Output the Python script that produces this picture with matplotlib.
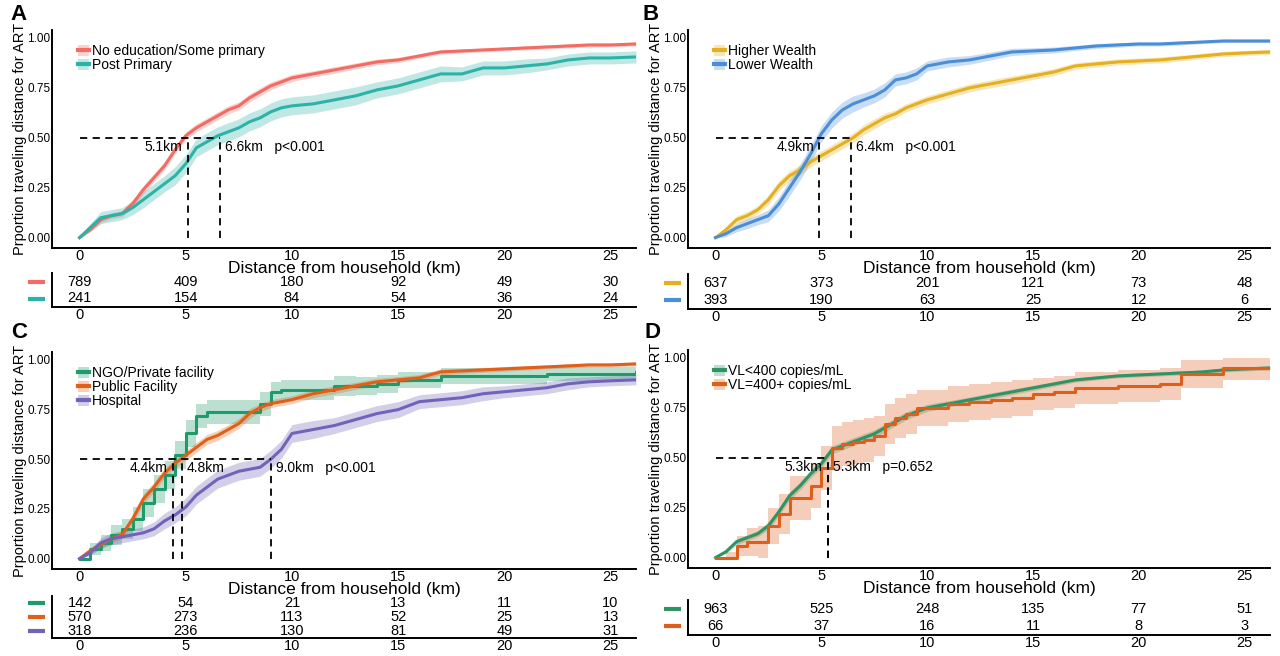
import numpy as np
import matplotlib
matplotlib.use('Agg')
import matplotlib.pyplot as plt
from matplotlib.patches import Patch
from matplotlib.lines import Line2D

plt.rcParams['font.family'] = ['Liberation Sans', 'DejaVu Sans']

# common distance grid (km) at which the cumulative proportions were read
dist = [0, 0.5, 1, 1.5, 2, 2.5, 3, 3.5, 4, 4.5, 5, 5.5, 6, 6.5, 7, 7.5, 8, 8.5, 9, 9.5,
        10, 11, 12, 13, 14, 15, 16, 17, 18, 19, 20, 21, 22, 23, 24, 25, 26.2]
risk_ticks = [0, 5, 10, 15, 20, 25]

# ---- panel A: education
edu_labels = ['No education/Some primary', 'Post Primary']
edu_low = [0, .04, .09, .11, .12, .17, .24, .30, .36, .44, .51, .55, .58, .61, .64, .66, .70, .73, .76, .78,
           .80, .82, .84, .86, .88, .89, .91, .93, .935, .94, .945, .95, .955, .96, .965, .965, .97]
edu_low_ci = [0, .01, .015, .015, .015, .02, .02, .02, .02, .02, .02, .02, .02, .02, .02, .02, .02, .02, .02, .018,
              .018, .016, .016, .015, .014, .013, .012, .011, .01, .01, .01, .01, .01, .01, .01, .01, .01]
edu_post = [0, .05, .10, .11, .12, .15, .19, .23, .27, .31, .37, .45, .48, .51, .53, .55, .58, .60, .63, .65,
            .66, .67, .69, .71, .74, .76, .79, .82, .82, .85, .85, .86, .87, .89, .90, .90, .905]
edu_post_ci = [0, .02, .03, .03, .03, .035, .04, .04, .04, .045, .045, .045, .045, .045, .045, .045, .045, .045, .045, .045,
               .045, .045, .045, .045, .04, .04, .04, .04, .035, .035, .035, .035, .03, .03, .03, .03, .03]
edu_medians = [5.1, 6.6]
edu_p = 'p<0.001'
edu_risk = [[789, 409, 180, 92, 49, 30], [241, 154, 84, 54, 36, 24]]

# ---- panel B: wealth
wealth_labels = ['Higher Wealth', 'Lower Wealth']
wealth_high = [0, .04, .09, .11, .14, .19, .26, .31, .34, .38, .41, .44, .47, .50, .54, .57, .60, .62, .65, .67,
               .69, .72, .75, .77, .79, .81, .83, .86, .87, .88, .885, .89, .90, .91, .92, .925, .93]
wealth_high_ci = [0, .015, .02, .02, .02, .025, .025, .025, .025, .025, .025, .025, .025, .025, .025, .025, .025, .02, .02, .02,
                  .02, .02, .02, .02, .02, .018, .018, .016, .016, .015, .015, .015, .014, .014, .013, .013, .013]
wealth_lowr = [0, .02, .05, .07, .09, .11, .17, .25, .33, .42, .52, .59, .64, .67, .69, .71, .74, .79, .80, .82,
               .86, .88, .89, .91, .93, .935, .94, .95, .96, .965, .97, .97, .975, .98, .985, .985, .985]
wealth_lowr_ci = [0, .015, .02, .025, .025, .03, .035, .04, .04, .04, .04, .04, .04, .04, .035, .035, .035, .03, .03, .03,
                  .025, .025, .022, .02, .018, .016, .015, .013, .012, .011, .01, .01, .01, .008, .008, .008, .008]
wealth_medians = [4.9, 6.4]
wealth_p = 'p<0.001'
wealth_risk = [[637, 373, 201, 121, 73, 48], [393, 190, 63, 25, 12, 6]]

# ---- panel C: facility type
fac_labels = ['NGO/Private facility', 'Public Facility', 'Hospital']
fac_ngo = [0, .05, .08, .12, .15, .20, .28, .35, .42, .52, .63, .72, .74, .74, .74, .74, .74, .78, .84, .85,
           .85, .85, .87, .87, .88, .90, .90, .92, .92, .92, .92, .92, .93, .93, .93, .93, .94]
fac_ngo_ci = [0, .03, .04, .05, .05, .06, .07, .07, .07, .07, .07, .06, .06, .06, .06, .06, .06, .06, .05, .05,
              .05, .05, .05, .045, .045, .04, .04, .04, .04, .04, .04, .04, .035, .035, .035, .035, .035]
fac_pub = [0, .04, .07, .10, .12, .20, .30, .36, .43, .48, .52, .56, .60, .62, .65, .68, .73, .76, .78, .79,
           .80, .83, .85, .87, .89, .90, .91, .94, .945, .95, .955, .96, .965, .97, .975, .975, .98]
fac_pub_ci = [0, .015, .02, .02, .02, .025, .025, .025, .025, .025, .025, .025, .025, .025, .025, .025, .025, .02, .02, .02,
              .02, .02, .02, .018, .018, .016, .016, .015, .013, .012, .012, .011, .01, .01, .01, .01, .01]
fac_hosp = [0, .03, .08, .10, .11, .12, .13, .15, .19, .22, .26, .32, .36, .40, .42, .44, .45, .46, .50, .55,
            .63, .65, .67, .70, .73, .75, .79, .80, .81, .83, .84, .85, .86, .88, .89, .895, .90]
fac_hosp_ci = [0, .015, .025, .03, .03, .03, .03, .035, .04, .04, .045, .045, .045, .045, .045, .045, .045, .045, .045, .045,
               .045, .045, .04, .04, .04, .04, .035, .035, .035, .035, .03, .03, .03, .03, .025, .025, .025]
fac_medians = [4.4, 4.8, 9.0]
fac_p = 'p<0.001'
fac_risk = [[142, 54, 21, 13, 11, 10], [570, 273, 113, 52, 25, 13], [318, 236, 130, 81, 49, 31]]

# ---- panel D: viral load
vl_labels = ['VL<400 copies/mL', 'VL=400+ copies/mL']
vl_sup = [0, .03, .08, .10, .12, .16, .23, .31, .36, .42, .47, .54, .56, .58, .60, .62, .65, .68, .71, .73,
          .75, .77, .79, .81, .83, .85, .87, .89, .90, .91, .915, .92, .925, .93, .94, .945, .95]
vl_sup_ci = [0, .01, .015, .015, .015, .02, .02, .02, .02, .02, .02, .02, .02, .02, .02, .02, .02, .02, .02, .018,
             .018, .016, .015, .015, .014, .013, .012, .011, .01, .01, .01, .01, .01, .01, .01, .01, .01]
vl_uns = [0, 0, .06, .08, .08, .16, .22, .30, .30, .36, .45, .55, .57, .58, .59, .61, .67, .70, .72, .75,
          .75, .77, .78, .79, .80, .82, .83, .85, .85, .86, .86, .87, .92, .92, .95, .95, .95]
vl_uns_ci = [0, .03, .05, .07, .08, .09, .10, .11, .11, .11, .11, .11, .11, .11, .11, .10, .10, .10, .10, .09,
             .09, .09, .09, .09, .09, .08, .08, .08, .08, .08, .08, .08, .07, .07, .06, .06, .06]
vl_medians = [5.3, 5.3]
vl_p = 'p=0.652'
vl_risk = [[963, 525, 248, 135, 77, 51], [66, 37, 16, 11, 8, 3]]

W, H = 1280, 656
fig = plt.figure(figsize=(12.8, 6.56), dpi=100)


def rect(l, t, r, b):
    return [l / W, 1 - b / H, (r - l) / W, (b - t) / H]


def panel(main_px, table_px, letter, letter_xy, labels, curves, cis, colors, steps,
          medians, pval, risk):
    ax = fig.add_axes(rect(*main_px))
    x = np.array(dist)
    for y, ci, c, st in zip(curves, cis, colors, steps):
        y = np.array(y)
        ci = np.array(ci)
        lo = np.clip(y - ci, 0, 1)
        hi = np.clip(y + ci, 0, 1)
        if st:
            ax.fill_between(x, lo, hi, step='post', color=c, alpha=0.3, lw=0)
            ax.step(x, y, where='post', color=c, lw=2.2)
        else:
            ax.fill_between(x, lo, hi, color=c, alpha=0.3, lw=0)
            ax.plot(x, y, color=c, lw=2.2)
    # median lines
    ax.plot([0, max(medians)], [0.5, 0.5], ls=(0, (4, 3)), color='black', lw=1.3)
    for m in medians:
        ax.plot([m, m], [0, 0.5], ls=(0, (4, 3)), color='black', lw=1.3)
    ax.text(medians[0] - 0.25, 0.455, f'{medians[0]:.1f}km', ha='right', va='center', fontsize=10)
    for i, m in enumerate(medians[1:]):
        s = f'{m:.1f}km'
        if i == len(medians) - 2:
            s += '   ' + pval
        ax.text(m + 0.25, 0.455, s, ha='left', va='center', fontsize=10)

    ax.set_xlim(-1.3, 26.2)
    ax.set_ylim(-0.052, 1.04)
    ax.set_yticks([0, 0.25, 0.5, 0.75, 1.0])
    ax.set_yticklabels(['0.00', '0.25', '0.50', '0.75', '1.00'])
    ax.set_xticks(risk_ticks)
    ax.tick_params(axis='y', length=0, pad=1, labelsize=8.5)
    ax.tick_params(axis='x', length=0, pad=1, labelsize=10.5)
    for s in ['top', 'right']:
        ax.spines[s].set_visible(False)
    for s in ['left', 'bottom']:
        ax.spines[s].set_linewidth(1.4)
    ax.set_ylabel('Prportion traveling distance for ART', fontsize=10.5, labelpad=0)
    ax.set_xlabel('Distance from household (km)', fontsize=12.5, labelpad=-1.5)

    handles = [(Patch(color=c, alpha=0.3, lw=0), Line2D([], [], color=c, lw=3)) for c in colors]
    ax.legend(handles, labels, loc='upper left', bbox_to_anchor=(0.045, 0.935), frameon=False,
              fontsize=10, handlelength=0.8, handleheight=0.9, handletextpad=0.2,
              labelspacing=0.0, borderpad=0, borderaxespad=0)

    # risk table
    tx = fig.add_axes(rect(*table_px))
    n = len(risk)
    for i, row in enumerate(risk):
        yy = n - i - 0.5
        for xv, v in zip(risk_ticks, row):
            tx.text(xv, yy, str(v), ha='center', va='center', fontsize=10.5)
        tx.plot([-0.041, -0.012], [yy / n, yy / n], transform=tx.transAxes,
                color=colors[i], lw=3, clip_on=False, solid_capstyle='butt')
    tx.set_xlim(-1.3, 26.2)
    tx.set_ylim(0, n)
    tx.set_yticks([])
    tx.set_xticks(risk_ticks)
    tx.tick_params(axis='x', length=0, pad=1, labelsize=10.5)
    for s in ['top', 'right']:
        tx.spines[s].set_visible(False)
    for s in ['left', 'bottom']:
        tx.spines[s].set_linewidth(1.4)
    tx.patch.set_alpha(0)

    fig.text(letter_xy[0] / W, 1 - letter_xy[1] / H, letter, fontsize=16, fontweight='bold',
             ha='left', va='center')


panel((52, 30, 636, 248), (52, 273, 636, 307), 'A', (10, 15), edu_labels,
      [edu_low, edu_post], [edu_low_ci, edu_post_ci], ['#F26C64', '#2CB2A8'], [False, False],
      edu_medians, edu_p, edu_risk)
panel((688, 30, 1270, 248), (688, 274, 1270, 309), 'B', (643, 15), wealth_labels,
      [wealth_high, wealth_lowr], [wealth_high_ci, wealth_lowr_ci], ['#E4B020', '#4A8ED8'],
      [False, False], wealth_medians, wealth_p, wealth_risk)
panel((52, 352, 636, 569), (52, 596, 636, 638), 'C', (11, 332), fac_labels,
      [fac_ngo, fac_pub, fac_hosp], [fac_ngo_ci, fac_pub_ci, fac_hosp_ci],
      ['#1F9A6A', '#E0601A', '#7263B8'], [True, False, False], fac_medians, fac_p, fac_risk)
panel((688, 350, 1270, 568), (688, 600, 1270, 635), 'D', (645, 332), vl_labels,
      [vl_sup, vl_uns], [vl_sup_ci, vl_uns_ci], ['#2E9466', '#DD5F1C'], [False, True],
      vl_medians, vl_p, vl_risk)

fig.savefig('out.png', dpi=100)
